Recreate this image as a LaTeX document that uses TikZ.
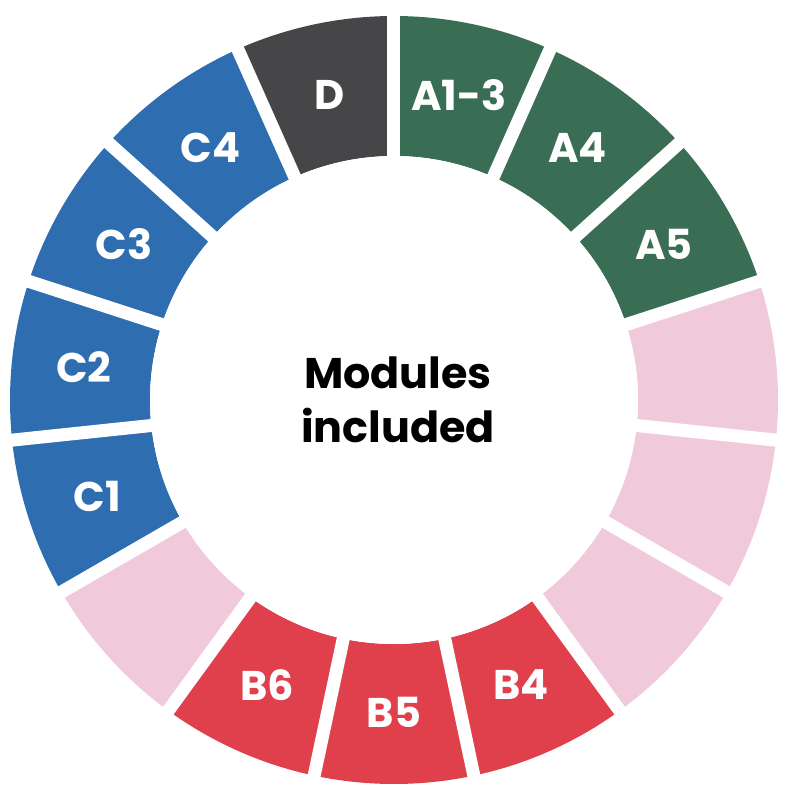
\documentclass[tikz,border=0pt]{standalone}
\usepackage{fontspec}
\setmainfont{Poppins}[BoldFont={Poppins Bold}]
\usepackage{xcolor}
\usepackage{tikz}
\usetikzlibrary{positioning, calc}

\definecolor{modgreen}{HTML}{3A6E54}
\definecolor{modblue}{HTML}{2E6DAF}
\definecolor{modred}{HTML}{E0404B}
\definecolor{modpink}{HTML}{F0CADB}
\definecolor{moddark}{HTML}{464648}

\begin{document}
\begin{tikzpicture}
    \tikzstyle{seglabel} = [text=white, font=\fontsize{11.8}{13}\selectfont\bfseries, inner sep=0pt]
    \tikzstyle{centre} = [text=black, align=center, font=\fontsize{12.2}{15.4}\selectfont\bfseries, inner sep=0pt]
    \tikzstyle{gap} = [white, line width=0.13cm]

    \useasboundingbox (-3.94,-3.96) rectangle (3.98,4.00);
    \coordinate (c) at (0,0);

    % Ring segments, clockwise from the top
    \foreach \i/\col/\lab in {0/modgreen/A1-3, 1/modgreen/A4, 2/modgreen/A5,
        3/modpink/, 4/modpink/, 5/modpink/,
        6/modred/B4, 7/modred/B5, 8/modred/B6, 9/modpink/,
        10/modblue/C1, 11/modblue/C2, 12/modblue/C3, 13/modblue/C4,
        14/moddark/D} {
        \pgfmathsetmacro{\a}{90-24*\i}
        \pgfmathsetmacro{\b}{90-24*(\i+1)}
        \pgfmathsetmacro{\m}{90-24*\i-12}
        \fill [\col] (\a:2.44) arc (\a:\b:2.44) -- (\b:3.84) arc (\b:\a:3.84) -- cycle;
        \node (seg\i) [seglabel] at (\m:3.12) {\lab};
    }

    % White gaps between segments
    \foreach \i in {0,...,14} {
        \draw [gap] (c) -- ($(c)+(90-24*\i:3.9)$);
    }
    \fill [white] (c) circle (2.44);

    \node (title) [centre] at (0.04,0) {Modules\\included};
\end{tikzpicture}
\end{document}
